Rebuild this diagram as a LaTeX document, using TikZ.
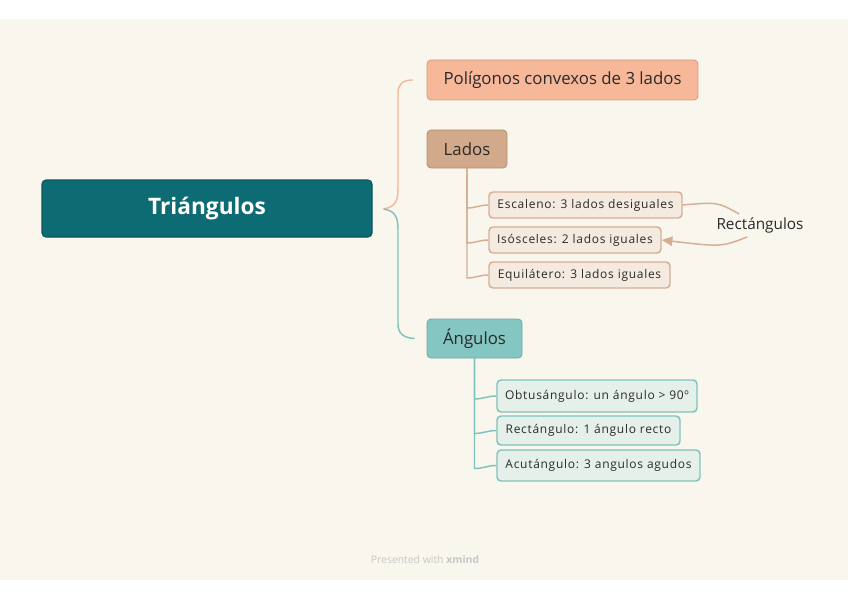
\documentclass[tikz,border=0pt]{standalone}
\usepackage{fontspec}
\setmainfont{Open Sans}
\newfontfamily\leaffont{Open Sans}[LetterSpace=6]
\usepackage{tikz}
\usetikzlibrary{positioning,calc,arrows.meta}

\definecolor{cream}{HTML}{F9F6EE}
\definecolor{rootteal}{HTML}{0D6B73}
\definecolor{peach}{HTML}{F6B899}
\definecolor{tan}{HTML}{D3A98B}
\definecolor{tanlight}{HTML}{F5EADF}
\definecolor{tanline}{HTML}{D6AE93}
\definecolor{seafoam}{HTML}{84C6C1}
\definecolor{sealight}{HTML}{E6F0EB}
\definecolor{sealine}{HTML}{80C2BC}
\definecolor{ink}{HTML}{2A2A2A}

\begin{document}
\begin{tikzpicture}
  [x=0.75pt,y=-0.75pt,
   every node/.style={rectangle,rounded corners=3pt,inner sep=0pt,text=ink},
   mainbox/.style={fill=#1,draw=#1!85!black,line width=0.6pt,font=\fontsize{12.6}{14}\selectfont},
   leafbox/.style={fill=#1,line width=1.1pt,font=\leaffont\fontsize{9}{10}\selectfont},
   peachline/.style={draw=peach,line width=1.1pt},
   sealink/.style={draw=sealine,line width=1.1pt},
   tanlink/.style={draw=tanline,line width=1.1pt}]
  % page and canvas
  \fill[white] (0,0) rectangle (848,599);
  \fill[cream] (0,19) rectangle (848,580);
  \useasboundingbox (0,0) rectangle (848,599);

  \node[fill=rootteal,draw=rootteal!80!black,line width=0.8pt,minimum width=330*0.75pt,minimum height=57*0.75pt,
        text=white,font=\fontsize{17}{19}\selectfont\bfseries] (root) at (207,208.5) {Triángulos};

  \node[mainbox=peach,minimum width=271*0.75pt,minimum height=40*0.75pt] (poly) at (562.5,80) {Polígonos convexos de 3 lados};
  \node[mainbox=tan,minimum width=80*0.75pt,minimum height=38*0.75pt] (lados) at (467,149) {Lados};
  \node[mainbox=seafoam,minimum width=95*0.75pt,minimum height=39*0.75pt] (ang) at (474.5,338.5) {Ángulos};

  \node[leafbox=tanlight,draw=tanline,minimum width=193*0.75pt,minimum height=26*0.75pt] (esc) at (585.5,205) {Escaleno: 3 lados desiguales};
  \node[leafbox=tanlight,draw=tanline,minimum width=172*0.75pt,minimum height=26*0.75pt] (iso) at (575,240) {Isósceles: 2 lados iguales};
  \node[leafbox=tanlight,draw=tanline,minimum width=181*0.75pt,minimum height=26*0.75pt] (equi) at (579.5,275) {Equilátero: 3 lados iguales};
  \node[draw=none,fill=none,font=\fontsize{11.5}{13}\selectfont] (rlabel) at (760,225) {Rectángulos};

  \node[leafbox=sealight,draw=sealine,minimum width=200*0.75pt,minimum height=32*0.75pt] (obt) at (597,396) {Obtusángulo: un ángulo > 90º};
  \node[leafbox=sealight,draw=sealine,minimum width=183*0.75pt,minimum height=29*0.75pt] (rect) at (588.5,430.5) {Rectángulo: 1 ángulo recto};
  \node[leafbox=sealight,draw=sealine,minimum width=203*0.75pt,minimum height=31*0.75pt] (acu) at (598.5,465.5) {Acutángulo: 3 angulos agudos};

  \node[draw=none,fill=none,text=black!22,font=\fontsize{7.8}{9}\selectfont] (credit) at (425,560) {Presented with \textbf{xmind}};

  % main branches
  \coordinate (fork) at ($(root.east)+(11,0.5)$);
  \draw[peachline] (fork) .. controls (396,207) and (398,200) .. (398,188) -- (398,93)
    .. controls (398,84) and (403,80) .. ($(poly.west)+(-14,0)$);
  \draw[sealink] (fork) .. controls (396,211) and (398,218) .. (398,230) -- (398,324)
    .. controls (398,333) and (403,338) .. ($(ang.west)+(-12,0)$);

  % Lados
  \draw[tanlink] (lados.south) -- ($(lados.south |- esc.west)+(0,3)$) to[out=0,in=180] (esc.west);
  \draw[tanlink] (lados.south) -- ($(lados.south |- iso.west)+(0,3)$) to[out=0,in=180] (iso.west);
  \draw[tanlink] (lados.south) -- ($(lados.south |- equi.west)+(0,3)$) to[out=0,in=180] (equi.west);

  % Rectangulos
  \draw[tanlink] (esc.east) .. controls ($(esc.east)+(35,-3)$) .. ($(rlabel.north west)+(23,-3)$);
  \draw[tanlink,-{Triangle[length=8pt,width=7pt]}] ($(rlabel.south west)+(31,4)$)
    .. controls ($(rlabel.south west)+(5,14)$) .. (iso.east);

  % Angulos
  \draw[sealink] (ang.south) -- ($(ang.south |- obt.west)+(0,3)$) to[out=0,in=180] (obt.west);
  \draw[sealink] (ang.south) -- ($(ang.south |- rect.west)+(0,3)$) to[out=0,in=180] (rect.west);
  \draw[sealink] (ang.south) -- ($(ang.south |- acu.west)+(0,3)$) to[out=0,in=180] (acu.west);
\end{tikzpicture}
\end{document}
